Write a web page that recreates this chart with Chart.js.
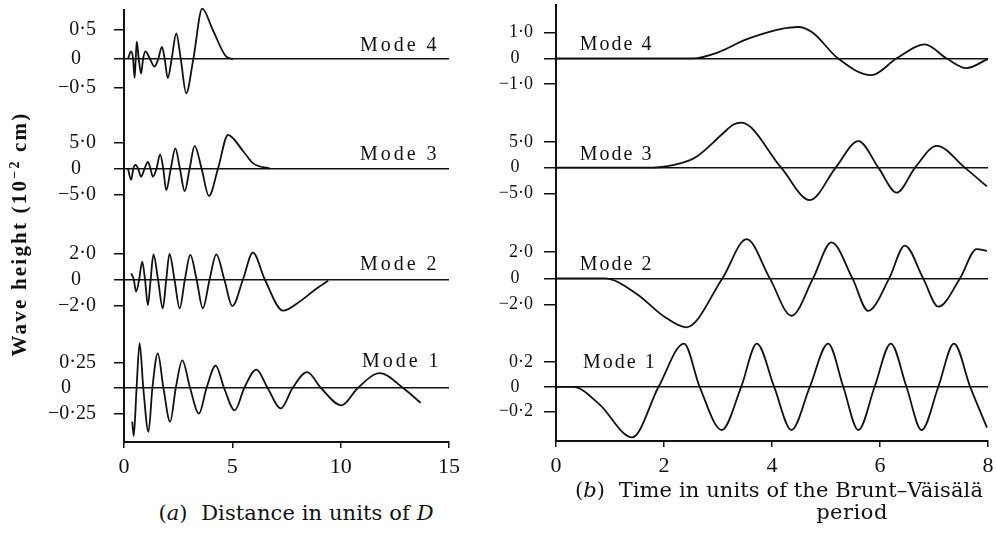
<!DOCTYPE html>
<html>
<head>
<meta charset="utf-8">
<script src="https://cdn.jsdelivr.net/npm/chart.js@4/dist/chart.umd.min.js"></script>
<style>
html,body{margin:0;padding:0;background:#fff;}
#wrap{position:relative;width:998px;height:554px;overflow:hidden;background:#fff;}
.box{position:absolute;top:0;height:490px;}
.txt{position:absolute;white-space:nowrap;color:#111;font-family:'DejaVu Serif',serif;font-size:21px;line-height:20px;text-align:center;}
#ytitle{font-family:'Liberation Serif',serif;font-weight:bold;font-size:21px;letter-spacing:2.2px;line-height:24px;width:320px;height:24px;left:-141px;top:222px;transform:rotate(-90deg);transform-origin:50% 50%;}
#ytitle sup{font-size:14px;line-height:0;vertical-align:7px;}
</style>
</head>
<body>
<div id="wrap">
  <div class="box" style="left:0;width:470px;"><canvas id="distChart"></canvas></div>
  <div class="box" style="left:470px;width:528px;"><canvas id="timeChart"></canvas></div>
  <div class="txt" id="ytitle">Wave height (10<sup>−2</sup> cm)</div>
  <div class="txt" style="left:96px;width:400px;top:503px;letter-spacing:0.1px;">(<i>a</i>)&nbsp; Distance in units of <i>D</i></div>
  <div class="txt" style="left:529px;width:500px;top:480px;letter-spacing:0.1px;">(<i>b</i>)&nbsp; Time in units of the Brunt–Väisälä</div>
  <div class="txt" style="left:752px;width:200px;top:502px;letter-spacing:0.5px;">period</div>
</div>
<script>
// ---------- tick values / labels ----------
const distTicks = [0, 5, 10, 15];
const timeTicks = [0, 2, 4, 6, 8];
const modeNames = ['Mode 1', 'Mode 2', 'Mode 3', 'Mode 4'];

const distYTicks1 = [-0.25, 0, 0.25]; const distYLabels1 = ['−0·25', '0', '0·25'];
const distYTicks2 = [-2, 0, 2];       const distYLabels2 = ['−2·0', '0', '2·0'];
const distYTicks3 = [-5, 0, 5];       const distYLabels3 = ['−5·0', '0', '5·0'];
const distYTicks4 = [-0.5, 0, 0.5];   const distYLabels4 = ['−0·5', '0', '0·5'];

const timeYTicks1 = [-0.2, 0, 0.2];   const timeYLabels1 = ['−0·2', '0', '0·2'];
const timeYTicks2 = [-2, 0, 2];       const timeYLabels2 = ['−2·0', '0', '2·0'];
const timeYTicks3 = [-5, 0, 5];       const timeYLabels3 = ['−5·0', '0', '5·0'];
const timeYTicks4 = [-1, 0, 1];       const timeYLabels4 = ['−1·0', '0', '1·0'];

// axis ranges of each mode strip
const distRange1 = [-0.529, 0.529];
const distRange2 = [-4.16, 4.08];
const distRange3 = [-11.14, 9.79];
const distRange4 = [-1.017, 0.845];
const timeRange1 = [-0.439, 0.444];
const timeRange2 = [-4.09, 4.23];
const timeRange3 = [-10.74, 10.39];
const timeRange4 = [-2.15, 2.06];

// ---------- (a) distance panel series ----------
const distMode1X = [0.38, 0.45, 0.58, 0.72, 0.89, 1.13, 1.31, 1.56, 1.82, 2.13, 2.39, 2.69, 3.05, 3.46, 3.81, 4.23, 4.62, 5.11, 5.55, 6.11, 6.63, 7.24, 7.78, 8.45, 9.09, 10.04, 10.79, 11.81, 12.88, 13.69];
const distMode1Y = [-0.33, -0.47, 0, 0.44, 0, -0.43, 0, 0.34, 0, -0.33, 0, 0.27, 0, -0.25, 0, 0.22, 0, -0.22, 0, 0.18, 0, -0.20, 0, 0.155, 0, -0.17, 0, 0.145, 0, -0.145];

const distMode2X = [0.33, 0.45, 0.56, 0.70, 0.84, 0.97, 1.10, 1.23, 1.36, 1.57, 1.79, 1.95, 2.10, 2.33, 2.57, 2.81, 3.06, 3.35, 3.64, 3.95, 4.26, 4.63, 5.00, 5.49, 5.95, 6.50, 7.34, 8.10, 8.80, 9.42];
const distMode2Y = [0.47, 0, -0.93, 0, 1.36, 0, -1.95, 0, 1.92, 0, -2.2, 0, 1.95, 0, -2.2, 0, 1.87, 0, -2.2, 0, 1.92, 0, -2.02, 0, 2.05, 0, -2.38, -1.7, -0.8, -0.1];

const distMode3X = [0.18, 0.33, 0.43, 0.53, 0.65, 0.79, 0.95, 1.10, 1.22, 1.33, 1.50, 1.67, 1.81, 1.95, 2.16, 2.37, 2.58, 2.80, 3.03, 3.26, 3.58, 3.92, 4.34, 4.80, 5.51, 5.96, 6.73];
const distMode3Y = [0, -2.2, 0, 0.7, 0, -1.6, 0, 1.3, 0, -1.6, 0, 2.75, 0, -4.2, 0, 3.9, 0, -4.4, 0, 4.4, 0, -5.3, 0, 6.5, 3.3, 1.0, 0];

const distMode4X = [0.18, 0.33, 0.42, 0.49, 0.54, 0.59, 0.68, 0.79, 0.88, 0.99, 1.20, 1.41, 1.58, 1.75, 1.88, 2.02, 2.20, 2.41, 2.62, 2.87, 3.20, 3.61, 4.10, 4.72, 5.03];
const distMode4Y = [0, 0.13, 0, -0.33, 0, 0.30, 0, -0.25, 0, 0.13, 0, -0.13, 0, 0.21, 0, -0.33, 0, 0.44, 0, -0.59, 0, 0.87, 0.50, 0.04, 0];

// ---------- (b) time panel series ----------
const timeMode1X = [0, 0.32, 0.8, 1.41, 1.90, 2.37, 2.66, 3.07, 3.43, 3.72, 4.04, 4.36, 4.70, 5.04, 5.32, 5.60, 5.90, 6.20, 6.49, 6.77, 7.08, 7.37, 7.67, 7.98];
const timeMode1Y = [0, 0, -0.14, -0.41, 0, 0.35, 0, -0.35, 0, 0.35, 0, -0.35, 0, 0.35, 0, -0.35, 0, 0.35, 0, -0.35, 0, 0.35, 0, -0.33];

const timeMode2X = [0, 0.9, 1.5, 2.0, 2.41, 3.08, 3.53, 3.96, 4.36, 4.76, 5.10, 5.49, 5.78, 6.17, 6.46, 6.80, 7.08, 7.48, 7.79, 7.98];
const timeMode2Y = [0, 0, -1.2, -2.9, -3.73, 0, 3.0, 0, -2.85, 0, 2.75, 0, -2.47, 0, 2.5, 0, -2.16, 0, 2.24, 2.1];

const timeMode3X = [0, 1.79, 2.3, 2.6, 3.09, 3.28, 3.43, 4.17, 4.70, 5.18, 5.60, 5.97, 6.31, 6.65, 7.05, 7.57, 7.98];
const timeMode3Y = [0, 0, 0.8, 2.1, 6.6, 8.3, 8.7, 0, -6.3, 0, 5.15, 0, -4.85, 0, 4.2, 0, -3.65];

const timeMode4X = [0, 2.54, 3.0, 3.5, 4.0, 4.2, 4.48, 4.75, 5.22, 5.84, 6.31, 6.83, 7.23, 7.60, 8.0];
const timeMode4Y = [0, 0, 0.23, 0.71, 1.05, 1.15, 1.21, 1.0, 0, -0.65, 0, 0.54, 0, -0.38, -0.02];

// ---------- helpers ----------
const INK = '#111';
const serif = "'Liberation Serif', 'Times New Roman', serif";

function pts(xs, ys) { return xs.map((x, i) => ({x: x, y: ys[i]})); }

function series(xs, ys, axis) {
  return {
    data: pts(xs, ys), yAxisID: axis, xAxisID: 'x',
    borderColor: INK, borderWidth: 1.8, pointRadius: 0, fill: false,
    cubicInterpolationMode: 'monotone', clip: false
  };
}

function noPad(s) { s.paddingTop = 0; s.paddingBottom = 0; s.paddingLeft = 0; s.paddingRight = 0; }

function yScale(weight, range, ticks, labels, o) {
  const pos = labels[labels.length - 1];
  const frac = pos.split('·')[1] || '';
  return {
    type: 'linear', position: 'left', stack: 'modes', stackWeight: 1, weight: weight,
    min: range[0], max: range[1],
    afterBuildTicks: s => { s.ticks = ticks.map(v => ({value: v})); },
    afterFit: s => { s.width = o.width; noPad(s); },
    ticks: {
      autoSkip: false, color: INK, padding: o.pad,
      font: {family: serif, size: o.fontSize},
      callback: v => {
        const i = ticks.indexOf(v);
        let t = i >= 0 ? labels[i] : '';
        if (t === '0' && frac) t += '\u2008' + '\u2007'.repeat(frac.length);
        return t;
      }
    },
    grid: {
      color: c => (c.tick && c.tick.value === 0) ? INK : 'rgba(0,0,0,0)',
      tickColor: INK, tickLength: o.tickLen, lineWidth: 1.5, drawTicks: true
    },
    border: {color: INK, width: 2}
  };
}

function xScale(max, ticks, height, fontSize, pad) {
  return {
    type: 'linear', position: 'bottom', min: 0, max: max,
    afterBuildTicks: s => { s.ticks = ticks.map(v => ({value: v})); },
    afterFit: s => { s.height = height; noPad(s); },
    ticks: {autoSkip: false, maxRotation: 0, color: INK, padding: pad,
            font: {family: serif, size: fontSize}, callback: v => String(v)},
    grid: {drawOnChartArea: false, color: INK, tickLength: 6, lineWidth: 1.5},
    border: {color: INK, width: 2}
  };
}

const modeLabelPlugin = {
  id: 'modeLabels',
  afterDatasetsDraw(chart, args, opts) {
    const ctx = chart.ctx;
    ctx.save();
    ctx.font = opts.font;
    ctx.fillStyle = INK;
    ctx.textAlign = 'left';
    ctx.textBaseline = 'alphabetic';
    if ('letterSpacing' in ctx) ctx.letterSpacing = opts.spacing;
    opts.items.forEach(it => {
      const x = chart.scales.x.getPixelForValue(it.x);
      const y = chart.scales[it.axis].getPixelForValue(0) - it.rise;
      ctx.fillText(it.text, x, y);
    });
    ctx.restore();
  }
};

function makeChart(id, datasets, scales, padding, labelOpts) {
  return new Chart(document.getElementById(id), {
    type: 'line',
    data: {datasets: datasets},
    options: {
      responsive: true, maintainAspectRatio: false, animation: false, devicePixelRatio: 1,
      layout: {padding: padding},
      plugins: {legend: {display: false}, tooltip: {enabled: false}, modeLabels: labelOpts},
      scales: scales
    },
    plugins: [modeLabelPlugin]
  });
}

// ---------- (a) ----------
const dOpt = {width: 124, pad: 18, tickLen: 10, fontSize: 20};
makeChart('distChart',
  [series(distMode4X, distMode4Y, 'y4'), series(distMode3X, distMode3Y, 'y3'),
   series(distMode2X, distMode2Y, 'y2'), series(distMode1X, distMode1Y, 'y1')],
  {
    x: xScale(15, distTicks, 48, 22, 6),
    y4: yScale(4, distRange4, distYTicks4, distYLabels4, dOpt),
    y3: yScale(3, distRange3, distYTicks3, distYLabels3, dOpt),
    y2: yScale(2, distRange2, distYTicks2, distYLabels2, dOpt),
    y1: yScale(1, distRange1, distYTicks1, distYLabels1, dOpt)
  },
  {left: 0, top: 10, right: 21, bottom: 0},
  {font: "20px 'Liberation Serif'", spacing: '3px', items: [
    {text: modeNames[3], axis: 'y4', x: 10.89, rise: 8},
    {text: modeNames[2], axis: 'y3', x: 10.89, rise: 8.5},
    {text: modeNames[1], axis: 'y2', x: 10.89, rise: 9.5},
    {text: modeNames[0], axis: 'y1', x: 10.98, rise: 21}
  ]}
);

// ---------- (b) ----------
const tOpt = {width: 86, pad: 11, tickLen: 12, fontSize: 18};
makeChart('timeChart',
  [series(timeMode4X, timeMode4Y, 'y4'), series(timeMode3X, timeMode3Y, 'y3'),
   series(timeMode2X, timeMode2Y, 'y2'), series(timeMode1X, timeMode1Y, 'y1')],
  {
    x: xScale(8, timeTicks, 49, 22, 6),
    y4: yScale(4, timeRange4, timeYTicks4, timeYLabels4, tOpt),
    y3: yScale(3, timeRange3, timeYTicks3, timeYLabels3, tOpt),
    y2: yScale(2, timeRange2, timeYTicks2, timeYLabels2, tOpt),
    y1: yScale(1, timeRange1, timeYTicks1, timeYLabels1, tOpt)
  },
  {left: 0, top: 5, right: 10, bottom: 0},
  {font: "20px 'Liberation Serif'", spacing: '2px', items: [
    {text: modeNames[3], axis: 'y4', x: 0.44, rise: 8},
    {text: modeNames[2], axis: 'y3', x: 0.44, rise: 7.6},
    {text: modeNames[1], axis: 'y2', x: 0.44, rise: 8.4},
    {text: modeNames[0], axis: 'y1', x: 0.5, rise: 19}
  ]}
);
</script>
</body>
</html>
